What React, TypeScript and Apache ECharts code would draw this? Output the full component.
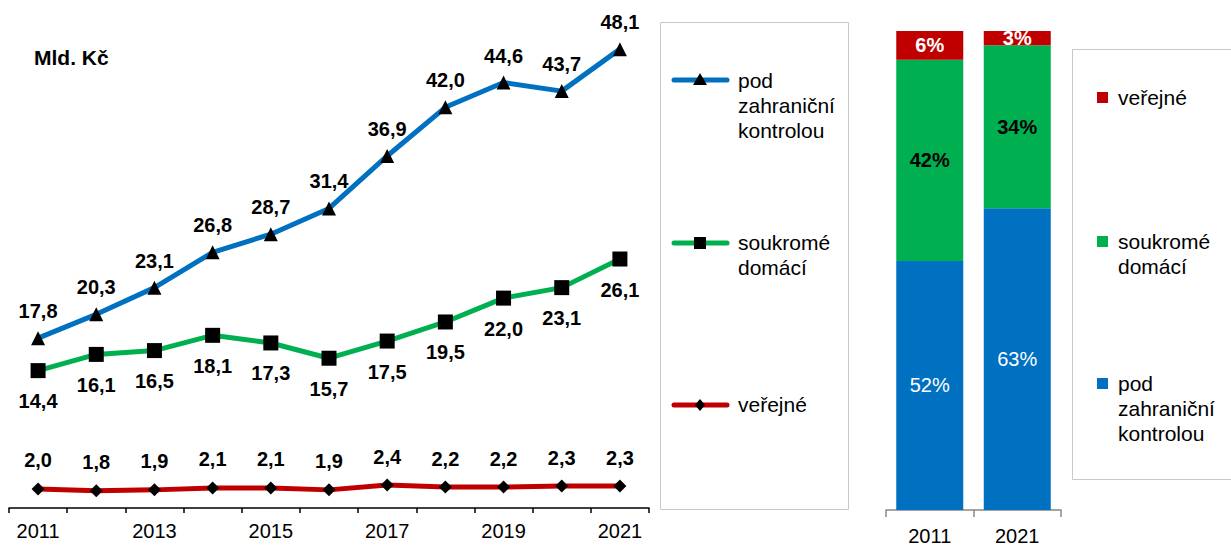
import React, { useEffect, useRef } from "react";
import * as echarts from "echarts";

const years = ["2011", "2012", "2013", "2014", "2015", "2016", "2017", "2018", "2019", "2020", "2021"];
const foreignCtrl = [17.8, 20.3, 23.1, 26.8, 28.7, 31.4, 36.9, 42.0, 44.6, 43.7, 48.1];
const privateDomestic = [14.4, 16.1, 16.5, 18.1, 17.3, 15.7, 17.5, 19.5, 22.0, 23.1, 26.1];
const publicSector = [2.0, 1.8, 1.9, 2.1, 2.1, 1.9, 2.4, 2.2, 2.2, 2.3, 2.3];

const shareYears = ["2011", "2021"];
const shareForeign = [52, 63];
const sharePrivate = [42, 34];
const sharePublic = [6, 3];

const legendNames = ["pod\nzahraniční\nkontrolou", "soukromé\ndomácí", "veřejné"];

const BLUE = "#0070C0";
const GREEN = "#00B050";
const RED = "#C00000";
const FONT = "Liberation Sans, Arial, sans-serif";

const fmt = (p: any) => Number(p.value).toFixed(1).replace(".", ",");

export default function App() {
  const ref = useRef<HTMLDivElement>(null);
  useEffect(() => {
    if (!ref.current) return;
    const chart = echarts.init(ref.current, null, { renderer: "svg" });
    const lbl = {
      show: true,
      fontFamily: FONT,
      fontSize: 20,
      fontWeight: "bold" as const,
      color: "#000",
      formatter: fmt,
    };
    const textEl = (x: number, y: number, text: string, extra: any = {}) => ({
      type: "text",
      x,
      y,
      style: {
        text,
        fill: "#000",
        font: `21px ${FONT}`,
        lineHeight: 25,
        textVerticalAlign: "top",
        verticalAlign: "top",
        ...extra,
      },
    });
    const option: any = {
      animation: false,
      textStyle: { fontFamily: FONT },
      grid: [
        { left: 9, right: 582, top: 31, bottom: 38 },
        { left: 886, right: 170, top: 31, bottom: 34 },
      ],
      xAxis: [
        {
          type: "category",
          gridIndex: 0,
          data: years,
          boundaryGap: true,
          axisLine: { lineStyle: { color: "#000", width: 1.5 } },
          axisTick: { show: true, interval: 0, length: 5, lineStyle: { color: "#000", width: 1.5 } },
          axisLabel: { interval: 1, fontSize: 20, color: "#000", fontFamily: FONT, margin: 13 },
        },
        {
          type: "category",
          gridIndex: 1,
          data: shareYears,
          axisLine: { lineStyle: { color: "#888", width: 1.5 } },
          axisTick: { show: true, length: 7, lineStyle: { color: "#888", width: 1.5 } },
          axisLabel: { fontSize: 20, color: "#000", fontFamily: FONT, margin: 16 },
        },
      ],
      yAxis: [
        { type: "value", gridIndex: 0, min: 0, max: 50, show: false, splitLine: { show: false } },
        { type: "value", gridIndex: 1, min: 0, max: 100, show: false, splitLine: { show: false } },
      ],
      series: [
        {
          name: "pod zahraniční kontrolou",
          type: "line",
          xAxisIndex: 0,
          yAxisIndex: 0,
          data: foreignCtrl,
          lineStyle: { color: BLUE, width: 5 },
          itemStyle: { color: "#000" },
          symbol: "triangle",
          symbolSize: 14,
          label: { ...lbl, position: "top", distance: 10 },
        },
        {
          name: "soukromé domácí",
          type: "line",
          xAxisIndex: 0,
          yAxisIndex: 0,
          data: privateDomestic,
          lineStyle: { color: GREEN, width: 5 },
          itemStyle: { color: "#000" },
          symbol: "rect",
          symbolSize: 15,
          label: { ...lbl, position: "bottom", distance: 13 },
        },
        {
          name: "veřejné",
          type: "line",
          xAxisIndex: 0,
          yAxisIndex: 0,
          data: publicSector,
          lineStyle: { color: RED, width: 5 },
          itemStyle: { color: "#000" },
          symbol: "diamond",
          symbolSize: 13,
          label: { ...lbl, position: "top", distance: 12 },
        },
        {
          name: "foreign share",
          type: "bar",
          stack: "s",
          xAxisIndex: 1,
          yAxisIndex: 1,
          data: shareForeign,
          barWidth: 67,
          itemStyle: { color: BLUE },
          label: { show: true, position: "inside", color: "#fff", fontSize: 20, fontFamily: FONT, formatter: "{c}%" },
        },
        {
          name: "private share",
          type: "bar",
          stack: "s",
          xAxisIndex: 1,
          yAxisIndex: 1,
          data: sharePrivate,
          barWidth: 67,
          itemStyle: { color: GREEN },
          label: { show: true, position: "inside", color: "#000", fontWeight: "bold", fontSize: 20, fontFamily: FONT, formatter: "{c}%" },
        },
        {
          name: "public share",
          type: "bar",
          stack: "s",
          xAxisIndex: 1,
          yAxisIndex: 1,
          data: sharePublic,
          barWidth: 67,
          itemStyle: { color: RED },
          label: { show: true, position: "inside", color: "#fff", fontWeight: "bold", fontSize: 20, fontFamily: FONT, formatter: "{c}%" },
        },
      ],
      graphic: [
        textEl(34, 45, "Mld. Kč", { font: `bold 21px ${FONT}` }),
        // legend box 1
        {
          type: "rect",
          shape: { x: 660.5, y: 22.5, width: 188, height: 487 },
          style: { fill: "#fff", stroke: "#c8c8c8", lineWidth: 1 },
          z: -1,
        },
        { type: "line", shape: { x1: 674, y1: 80, x2: 727, y2: 80 }, style: { stroke: BLUE, lineWidth: 5, lineCap: "round" } },
        { type: "polygon", shape: { points: [[700, 73], [707, 85], [693, 85]] }, style: { fill: "#000" } },
        textEl(738, 68, legendNames[0]),
        { type: "line", shape: { x1: 674, y1: 243, x2: 727, y2: 243 }, style: { stroke: GREEN, lineWidth: 5, lineCap: "round" } },
        { type: "rect", shape: { x: 694, y: 237, width: 12, height: 12 }, style: { fill: "#000" } },
        textEl(738, 230, legendNames[1]),
        { type: "line", shape: { x1: 674, y1: 405, x2: 727, y2: 405 }, style: { stroke: RED, lineWidth: 5, lineCap: "round" } },
        { type: "polygon", shape: { points: [[700, 399], [705, 405], [700, 411], [695, 405]] }, style: { fill: "#000" } },
        textEl(738, 392, legendNames[2]),
        // legend box 2
        {
          type: "rect",
          shape: { x: 1072.5, y: 49.5, width: 200, height: 430 },
          style: { fill: "#fff", stroke: "#c8c8c8", lineWidth: 1 },
          z: -1,
        },
        { type: "rect", shape: { x: 1097, y: 92, width: 11, height: 11 }, style: { fill: RED } },
        textEl(1118, 85, legendNames[2]),
        { type: "rect", shape: { x: 1097, y: 236, width: 11, height: 11 }, style: { fill: GREEN } },
        textEl(1118, 229, legendNames[1]),
        { type: "rect", shape: { x: 1097, y: 378, width: 11, height: 11 }, style: { fill: BLUE } },
        textEl(1118, 371, legendNames[0]),
      ],
    };
    chart.setOption(option);
    return () => chart.dispose();
  }, []);
  return (
    <div
      ref={ref}
      style={{ position: "absolute", left: 0, top: 0, width: 1231, height: 546, background: "#fff" }}
    />
  );
}
